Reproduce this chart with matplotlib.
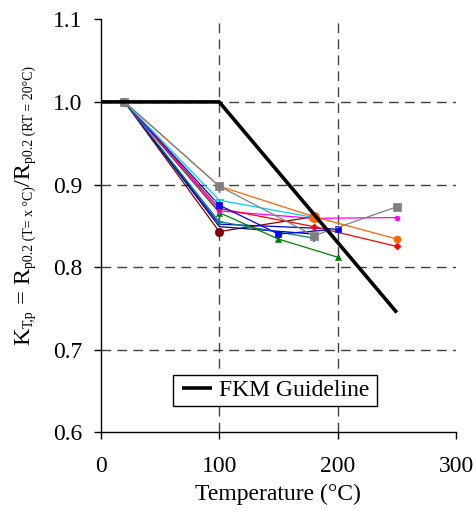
import matplotlib
matplotlib.use("Agg")
import matplotlib.pyplot as plt
from matplotlib.patches import Rectangle
from matplotlib.transforms import IdentityTransform

plt.rcParams['font.family'] = ['Liberation Serif', 'DejaVu Serif']

# FKM guideline
fkm_T = [0, 100, 250]
fkm_K = [1.0, 1.0, 0.745]

# Material series (temperature, K value)
gray_T = [20, 100, 180, 250];  gray_K = [1.0, 0.898, 0.838, 0.873]
orange_T = [20, 100, 180, 250]; orange_K = [1.0, 0.898, 0.861, 0.834]
cyan_T = [20, 100, 180];       cyan_K = [1.0, 0.881, 0.860]
blue_T = [20, 100, 150, 200];  blue_K = [1.0, 0.875, 0.840, 0.846]
red_T = [20, 100, 180, 250];   red_K = [1.0, 0.871, 0.849, 0.825]
mag_T = [20, 100, 180, 250];   mag_K = [1.0, 0.868, 0.859, 0.860]
green_T = [20, 100, 150, 200]; green_K = [1.0, 0.866, 0.834, 0.812]
teal_T = [20, 100, 180];       teal_K = [1.0, 0.855, 0.835]
mblue_T = [20, 100, 200];      mblue_K = [1.0, 0.852, 0.846]
navy_T = [20, 100, 180];       navy_K = [1.0, 0.849, 0.840]
maroon_T = [20, 100, 180];     maroon_K = [1.0, 0.843, 0.861]

x_ticks = [0, 100, 200, 300]
y_ticks = [0.6, 0.7, 0.8, 0.9, 1.0, 1.1]
y_ticklabels = ['0.6', '0.7', '0.8', '0.9', '1.0', '1.1']

fig = plt.figure(figsize=(4.77, 5.11), dpi=100)
ax = fig.add_axes([100.8/477, 1-432.3/511, 355.2/477, 413/511])

series = [
    (maroon_T, maroon_K, '#800000', 'o', 6),
    (navy_T, navy_K, '#000080', 'None', 4),
    (mblue_T, mblue_K, '#0000cc', 'None', 4),
    (teal_T, teal_K, '#008080', '+', 6),
    (green_T, green_K, '#008000', '^', 4),
    (mag_T, mag_K, '#ff00ff', 'o', 3.5),
    (red_T, red_K, '#ff0000', 'D', 3.5),
    (blue_T, blue_K, '#0000ff', 's', 4.5),
    (cyan_T, cyan_K, '#00ccff', '_', 7),
    (orange_T, orange_K, '#ff6600', 'o', 5),
    (gray_T, gray_K, '#808080', 's', 5.5),
]
for T, K, c, m, ms in series:
    ax.plot(T, K, color=c, lw=0.9, marker=m, ms=ms, mec=c, mfc=c,
            mew=1.2 if m in '+_' else 0.5)

ax.plot(orange_T[2:3], orange_K[2:3], 'o', color='#ff6600', ms=7)

fkm_line, = ax.plot(fkm_T, fkm_K, color='black', lw=2.6, label='FKM Guideline',
                    solid_capstyle='butt')

ax.set_xlim(0, 300)
ax.set_ylim(0.6, 1.1)
ax.set_xticks(x_ticks)
ax.set_yticks(y_ticks)
ax.set_yticklabels(y_ticklabels)
ax.tick_params(direction='out', length=5, width=1, labelsize=17)
ax.tick_params(axis='y', pad=8)
ax.tick_params(axis='x', pad=12)

for s in ['top', 'right']:
    ax.spines[s].set_visible(False)
for s in ['left', 'bottom']:
    ax.spines[s].set_linewidth(1)

for x in [100, 200]:
    ax.axvline(x, color='#404040', lw=1, ls=(0, (7, 4.5)), zorder=0)
for y in [0.7, 0.8, 0.9, 1.0]:
    ax.axhline(y, color='#404040', lw=1, ls=(0, (7, 4.5)), zorder=0)

ax.set_xlabel('Temperature (°C)', fontsize=17, labelpad=5)

# legend
leg = ax.legend(loc='center', bbox_to_anchor=(0.493, 0.101), fontsize=17, frameon=False,
                handlelength=1.27, handletextpad=0.3, borderpad=0)
ax.add_patch(Rectangle((0.203, 0.0637), 0.575, 0.075, transform=ax.transAxes,
                       facecolor='white', edgecolor='black', lw=1, zorder=4))
leg.set_zorder(5)

# y label built from pieces (large main letters, small subscripts)
pieces = [("K", 17.5, 0), ("T,p", 10, 3.5), (" = R", 17.5, 0),
          ("p0.2 (T= x °C)", 10, 3.5), ("/R", 17.5, 0),
          ("p0.2 (RT = 20°C)", 10, 3.5)]
renderer = fig.canvas.get_renderer()
xb = 29.5
yb = 511 - 345
for txt, size, shift in pieces:
    t = fig.text(xb + shift, yb, txt, rotation=90, rotation_mode='anchor',
                 ha='left', va='baseline', fontsize=size, transform=IdentityTransform())
    ext = t.get_window_extent(renderer)
    yb += ext.height

fig.savefig('out.png', dpi=100)
